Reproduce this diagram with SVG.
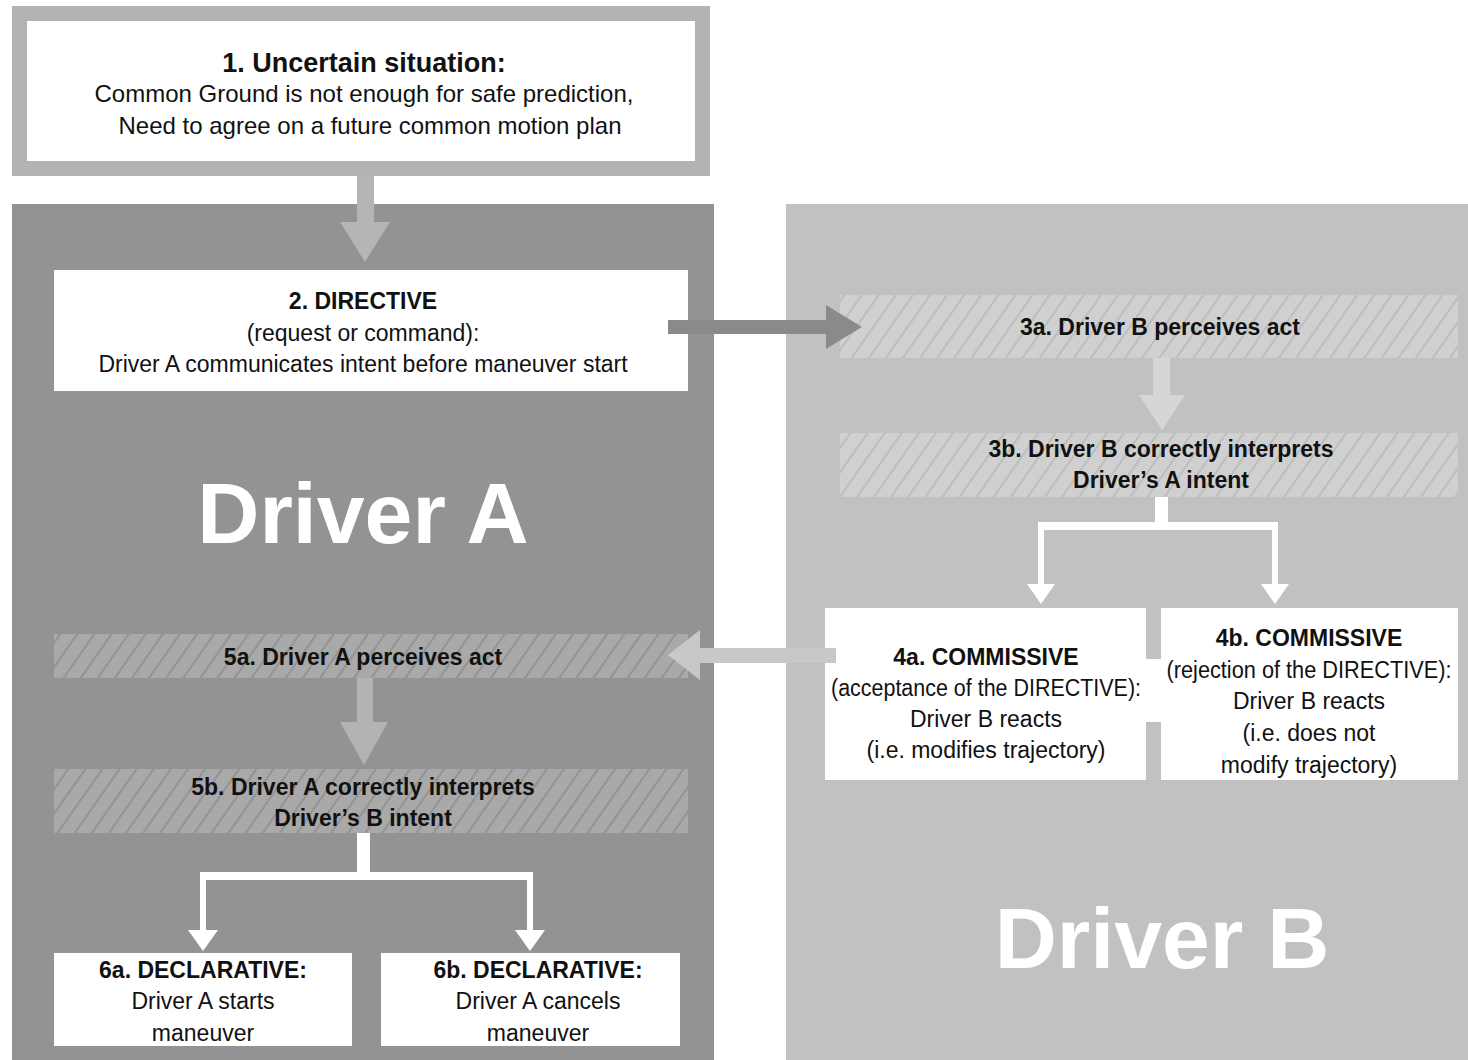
<svg xmlns="http://www.w3.org/2000/svg" width="1468" height="1060" viewBox="0 0 1468 1060">
<defs>
<style>
text{font-family:"Liberation Sans",Arial,sans-serif;text-anchor:middle;fill:#111}
.b{font-weight:bold}
.t{font-size:23px}
.t24{font-size:24px}
.h{font-size:27px;font-weight:bold}
.big{font-size:86px;font-weight:bold;fill:#fff}
.box{fill:#fff}
</style>
<pattern id="hatchB" width="14" height="14" patternUnits="userSpaceOnUse" patternTransform="rotate(35)">
<rect width="14" height="14" fill="#d0d0d0"/>
<line x1="7" y1="0" x2="7" y2="14" stroke="#b9b9b9" stroke-width="1.6"/>
</pattern>
<pattern id="hatchA" width="14" height="14" patternUnits="userSpaceOnUse" patternTransform="rotate(35)">
<rect width="14" height="14" fill="#a9a9a9"/>
<line x1="7" y1="0" x2="7" y2="14" stroke="#8e8e8e" stroke-width="1.6"/>
</pattern>
</defs>
<rect width="1468" height="1060" fill="#fff"/>

<g id="panelA">
<rect x="12" y="204" width="702" height="856" fill="#939393"/>
<text class="big" x="363" y="543">Driver A</text>
</g>
<g id="panelB">
<rect x="786" y="204" width="682" height="856" fill="#c1c1c1"/>
<text class="big" x="1162" y="968">Driver B</text>
</g>

<g id="n1">
<rect x="19.5" y="13.5" width="683" height="155" fill="#fff" stroke="#b3b3b3" stroke-width="15"/>
<text class="h" x="364" y="72">1. Uncertain situation:</text>
<text class="t24" x="364" y="102">Common Ground is not enough for safe prediction,</text>
<text class="t24" x="370" y="134">Need to agree on a future common motion plan</text>
</g>

<g id="n2">
<rect class="box" x="54" y="270" width="634" height="121"/>
<text class="t b" x="363" y="309">2. DIRECTIVE</text>
<text class="t" x="363" y="341">(request or command):</text>
<text class="t" x="363" y="372">Driver A communicates intent before maneuver start</text>
</g>

<g id="n3a">
<rect x="840" y="295" width="618" height="63" fill="url(#hatchB)"/>
<text class="t b" x="1160" y="335">3a. Driver B perceives act</text>
</g>

<g id="n3b">
<rect x="840" y="433" width="618" height="64" fill="url(#hatchB)"/>
<text class="t b" x="1161" y="457">3b. Driver B correctly interprets</text>
<text class="t b" x="1161" y="488">Driver’s A intent</text>
</g>

<g id="n4a">
<rect class="box" x="825" y="608" width="321" height="172"/>
<text class="t b" x="986" y="665">4a. COMMISSIVE</text>
<text class="t" x="986" y="696" textLength="310" lengthAdjust="spacingAndGlyphs">(acceptance of the DIRECTIVE):</text>
<text class="t" x="986" y="727">Driver B reacts</text>
<text class="t" x="986" y="758">(i.e. modifies trajectory)</text>
</g>

<g id="n4b">
<rect class="box" x="1161" y="608" width="297" height="172"/>
<rect class="box" x="1145" y="659" width="17" height="63"/>
<text class="t b" x="1309" y="646">4b. COMMISSIVE</text>
<text class="t" x="1309" y="678" textLength="285" lengthAdjust="spacingAndGlyphs">(rejection of the DIRECTIVE):</text>
<text class="t" x="1309" y="709">Driver B reacts</text>
<text class="t" x="1309" y="741">(i.e. does not</text>
<text class="t" x="1309" y="773">modify trajectory)</text>
</g>

<g id="n5a">
<rect x="54" y="634" width="634" height="44" fill="url(#hatchA)"/>
<text class="t b" x="363" y="665">5a. Driver A perceives act</text>
</g>

<g id="n5b">
<rect x="54" y="769" width="634" height="64" fill="url(#hatchA)"/>
<text class="t b" x="363" y="795">5b. Driver A correctly interprets</text>
<text class="t b" x="363" y="826">Driver’s B intent</text>
</g>

<g id="n6a">
<rect class="box" x="54" y="953" width="298" height="93"/>
<text class="t b" x="203" y="978">6a. DECLARATIVE:</text>
<text class="t" x="203" y="1009">Driver A starts</text>
<text class="t" x="203" y="1041">maneuver</text>
</g>

<g id="n6b">
<rect class="box" x="381" y="953" width="299" height="93"/>
<text class="t b" x="538" y="978">6b. DECLARATIVE:</text>
<text class="t" x="538" y="1009">Driver A cancels</text>
<text class="t" x="538" y="1041">maneuver</text>
</g>

<g id="connectors">
<path d="M357,176 H374 V222 H390 L365,262 L340,222 H357 Z" fill="#b5b5b5"/>
<path d="M668,320 H826 V305 L862,327 L826,349 V334 H668 Z" fill="#8a8a8a"/>
<path d="M1153,358 H1170 V395 H1185 L1162,430 L1139,395 H1153 Z" fill="#d6d6d6"/>
<path d="M1155,497 H1168 V522 H1278 V584 H1289 L1275,604 L1261,584 H1272 V530 H1044 V584 H1055 L1041,604 L1027,584 H1038 V522 H1155 Z" fill="#fff"/>
<path d="M836,648 V663 H700 V680 L668,655 L700,630 V648 Z" fill="#c8c8c8"/>
<path d="M357,678 H373 V722 H388 L364,765 L340,722 H357 Z" fill="#b3b3b3"/>
<path d="M357,833 H370 V872 H533 V930 H545 L530,951 L515,930 H527 V880 H206 V930 H218 L203,951 L188,930 H200 V872 H357 Z" fill="#fff"/>
</g>
</svg>
